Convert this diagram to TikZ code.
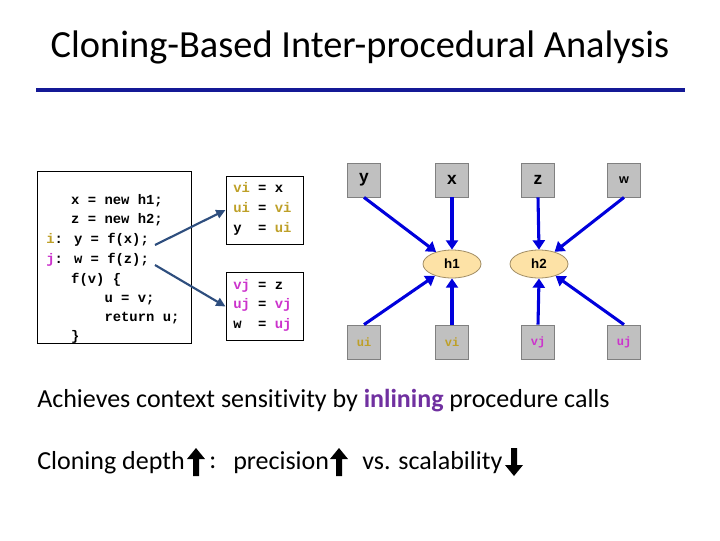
\documentclass[tikz,border=0pt]{standalone}
\usepackage{fontspec}
\setmainfont{Carlito}[Ligatures=NoCommon]
\newfontfamily\codefont{Liberation Mono}
\newfontfamily\gsans{Liberation Sans}
\usetikzlibrary{arrows.meta,shapes.geometric}
\definecolor{titleblue}{RGB}{20,25,150}
\definecolor{codearrow}{RGB}{46,78,126}
\definecolor{goldc}{RGB}{190,160,40}
\definecolor{magc}{RGB}{204,51,204}
\definecolor{edgeblue}{RGB}{0,0,220}
\definecolor{gfill}{RGB}{192,192,192}
\definecolor{gline}{RGB}{128,128,128}
\definecolor{efill}{RGB}{253,226,166}
\definecolor{eline}{RGB}{160,140,100}
\definecolor{purp}{RGB}{112,48,160}
\tikzset{
  codeline/.style={inner sep=0, anchor=west, text height=7pt, text depth=2pt,
    font=\codefont\bfseries\fontsize{10.4}{12}\selectfont},
  gbox/.style={draw=gline, fill=gfill, line width=0.6pt, minimum width=25pt, minimum height=25.5pt, inner sep=0},
  hnode/.style={ellipse, draw=eline, fill=efill, line width=0.6pt, minimum width=43.5pt, minimum height=21pt, inner sep=0,
    font=\gsans\bfseries\fontsize{10}{12}\selectfont},
  gedge/.style={draw=edgeblue, line width=2.3pt, -{Triangle[length=7pt,width=9pt]}},
  carrow/.style={draw=codearrow, line width=1.6pt, -{Triangle[length=7pt,width=6.5pt]}},
  bigtext/.style={inner sep=0, anchor=west, font=\fontsize{19.5}{23}\selectfont},
  toplabel/.style={font=\gsans\bfseries\fontsize{13}{15}\selectfont},
  uparrow/.pic={\fill (-3,14) -- (-3,-3) -- (-9,-3) -- (0,-14) -- (9,-3) -- (3,-3) -- (3,14) -- cycle;},
  downarrow/.pic={\fill (-3,-14) -- (-3,3) -- (-9,3) -- (0,14) -- (9,3) -- (3,3) -- (3,-14) -- cycle;}
}
\begin{document}
\begin{tikzpicture}[x=0.75pt,y=-0.75pt]
\useasboundingbox (0,0) rectangle (720,540);
% title
\node[inner sep=0, font=\fontsize{28.8}{33}\selectfont] (title) at (360,47) {Cloning-Based Inter-procedural Analysis};
\draw[titleblue, line width=2.3pt] (36,90) -- (685,90);
% code box
\node[draw, line width=0.75pt, minimum width=116pt, minimum height=129.5pt, inner sep=0] (code) at (114.5,257.5) {};
\node[codeline] (l1) at (46,201) {\ \ \ x = new h1;};
\node[codeline] (l2) at (46,220) {\ \ \ z = new h2;};
\node[codeline] (l3) at (46,240) {\textcolor{goldc}{i}: y = f(x);};
\node[codeline] (l4) at (46,260) {\textcolor{magc}{j}: w = f(z);};
\node[codeline] (l5) at (46,280) {\ \ \ f(v) \{};
\node[codeline] (l6) at (46,299) {\ \ \ \ \ \ \ u = v;};
\node[codeline] (l7) at (46,318) {\ \ \ \ \ \ \ return u;};
\node[codeline] (l8) at (46,337) {\ \ \ \}};
% clone boxes
\node[draw, line width=0.75pt, minimum width=57.75pt, minimum height=51pt, inner sep=0] (boxi) at (264.5,210) {};
\node[codeline] (bi1) at (233,189) {\textcolor{goldc}{vi} = x};
\node[codeline] (bi2) at (233,209) {\textcolor{goldc}{ui} = \textcolor{goldc}{vi}};
\node[codeline] (bi3) at (233,229) {y\ \ = \textcolor{goldc}{ui}};
\node[draw, line width=0.75pt, minimum width=57.75pt, minimum height=51pt, inner sep=0] (boxj) at (264.5,306.5) {};
\node[codeline] (bj1) at (233,286) {\textcolor{magc}{vj} = z};
\node[codeline] (bj2) at (233,305) {\textcolor{magc}{uj} = \textcolor{magc}{vj}};
\node[codeline] (bj3) at (233,325) {w\ \ = \textcolor{magc}{uj}};
\coordinate (ci) at (155,245);
\coordinate (cj) at (155,265);
\draw[carrow] (ci) -- (boxi.west);
\draw[carrow] (cj) -- (boxj.west);
% graph
\node[gbox, toplabel] (y) at (364,180) {y};
\node[gbox, toplabel] (x) at (452,180) {x};
\node[gbox, toplabel] (z) at (538,180) {z};
\node[gbox, font=\gsans\bfseries\fontsize{9.5}{11}\selectfont] (w) at (624,180) {w};
\node[gbox, font=\codefont\bfseries\fontsize{9}{11}\selectfont, text=goldc] (ui) at (364,342) {ui};
\node[gbox, font=\codefont\bfseries\fontsize{9}{11}\selectfont, text=goldc] (vi) at (452,342) {vi};
\node[gbox, font=\codefont\bfseries\fontsize{9}{11}\selectfont, text=magc] (vj) at (538,342) {vj};
\node[gbox, font=\codefont\bfseries\fontsize{9}{11}\selectfont, text=magc] (uj) at (624,342) {uj};
\node[hnode] (h1) at (452,264) {h1};
\node[hnode] (h2) at (539,264) {h2};
\draw[gedge] (y.south) -- (h1);
\draw[gedge] (x.south) -- (h1.north);
\draw[gedge] (z.south) -- (h2.north);
\draw[gedge] (w.south) -- (h2);
\draw[gedge] (ui.north) -- (h1);
\draw[gedge] (vi.north) -- (h1.south);
\draw[gedge] (vj.north) -- (h2.south);
\draw[gedge] (uj.north) -- (h2);
% bottom text
\node[bigtext] (t1) at (37,401) {Achieves context sensitivity by \textcolor{purp}{\bfseries inlining} procedure calls};
\node[bigtext] (t2) at (37,463) {Cloning depth};
\pic at (196,462) {uparrow};
\node[bigtext] (t3) at (209,463) {:};
\node[bigtext] (t4) at (233,463) {precision};
\pic at (339,462) {uparrow};
\node[bigtext] (t5) at (362,463) {vs. scalability};
\pic at (514,462) {downarrow};
\end{tikzpicture}
\end{document}
